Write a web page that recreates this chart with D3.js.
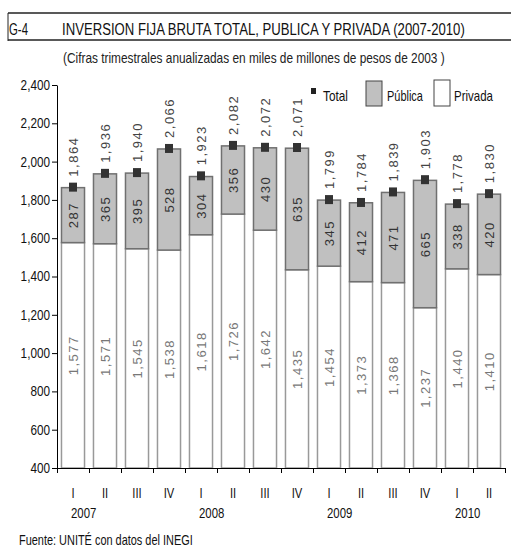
<!DOCTYPE html>
<html>
<head>
<meta charset="utf-8">
<script src="https://cdn.jsdelivr.net/npm/d3@7"></script>
<style>
  html, body { margin: 0; padding: 0; background: #fff; }
  svg { display: block; }
  text { font-family: "Liberation Sans", Arial, sans-serif; }
</style>
</head>
<body>
<svg id="chart" width="512" height="551"></svg>
<script>
const quarters = ["I","II","III","IV","I","II","III","IV","I","II","III","IV","I","II"];
const years = [{label:"2007", index:0},{label:"2008", index:4},{label:"2009", index:8},{label:"2010", index:12}];
const privada = [1577,1571,1545,1538,1618,1726,1642,1435,1454,1373,1368,1237,1440,1410];
const publica = [287,365,395,528,304,356,430,635,345,412,471,665,338,420];
const total = [1864,1936,1940,2066,1923,2082,2072,2071,1799,1784,1839,1903,1778,1830];
const yTicks = [400,600,800,1000,1200,1400,1600,1800,2000,2200,2400];

const svg = d3.select("#chart");
const fmt = d3.format(",");

const x = d3.scaleBand().domain(d3.range(privada.length)).range([57, 505]).paddingInner(0.28).paddingOuter(0.14);
const y = d3.scaleLinear().domain([400, 2400]).range([468, 85]);

// condensed text helper: horizontal scale emulates a narrow face
function ntext(parent, px, py, txt, size, sx, anchor, fill) {
  return parent.append("text")
    .attr("transform", `translate(${px},${py}) scale(${sx},1)`)
    .attr("text-anchor", anchor || "start")
    .attr("font-size", size).attr("fill", fill || "#111").text(txt);
}
// fit text to a target width by horizontal scaling
function fitText(parent, px, py, txt, size, width, fill) {
  const t = parent.append("text").attr("font-size", size).attr("fill", fill || "#111").text(txt);
  const w = t.node().getComputedTextLength();
  t.attr("transform", `translate(${px},${py}) scale(${width / w},1)`);
  return t;
}

// Title box
svg.append("line").attr("x1",8).attr("x2",511).attr("y1",13).attr("y2",13).attr("stroke","#222").attr("stroke-width",1.5);
svg.append("line").attr("x1",8).attr("x2",511).attr("y1",40).attr("y2",40).attr("stroke","#222").attr("stroke-width",1.5);
svg.append("line").attr("x1",8).attr("x2",8).attr("y1",13).attr("y2",41).attr("stroke","#222").attr("stroke-width",1);
fitText(svg, 9, 35, "G-4", 17, 19, "#111");
fitText(svg, 62, 35, "INVERSION FIJA BRUTA TOTAL, PUBLICA Y PRIVADA (2007-2010)", 17, 403, "#111");
fitText(svg, 63, 63, "(Cifras trimestrales anualizadas en miles de millones de pesos de 2003 )", 14, 382, "#222");

// Y axis
const yAxis = d3.axisLeft(y).tickValues(yTicks).tickFormat(fmt).tickSize(5).tickSizeOuter(0);
const gy = svg.append("g").attr("transform","translate(57,0)").call(yAxis);
gy.select(".domain").attr("stroke","#000");
gy.selectAll(".tick line").attr("stroke","#000");
gy.selectAll(".tick text").attr("x", 0).attr("font-family", null)
  .attr("transform","translate(-7,0) scale(0.84,1)").attr("font-size",14).attr("fill","#111");

// Bars
const g = svg.append("g");
const idx = d3.range(privada.length);
g.selectAll("rect.priv").data(idx).join("rect").attr("class","priv")
  .attr("x", i => x(i)).attr("width", x.bandwidth())
  .attr("y", i => y(privada[i])).attr("height", i => y(400) - y(privada[i]))
  .attr("fill","#fff").attr("stroke","#999").attr("stroke-width",1.5);
g.selectAll("rect.pub").data(idx).join("rect").attr("class","pub")
  .attr("x", i => x(i)).attr("width", x.bandwidth())
  .attr("y", i => y(privada[i] + publica[i])).attr("height", i => y(privada[i]) - y(privada[i] + publica[i]))
  .attr("fill","#c0c0c0").attr("stroke","#707070").attr("stroke-width",1.5);
g.selectAll("rect.tot").data(idx).join("rect").attr("class","tot")
  .attr("x", i => x(i) + x.bandwidth()/2 - 4).attr("width", 8)
  .attr("y", i => y(total[i]) - 5).attr("height", 9)
  .attr("fill","#333");

// Value labels (rotated)
function vlabel(xc, yc, txt, anchor, color) {
  g.append("text")
    .attr("transform", `translate(${xc},${yc}) rotate(-90)`)
    .attr("text-anchor", anchor).attr("dy","0.35em")
    .attr("font-size",13).attr("letter-spacing","1.5px").attr("fill",color).text(txt);
}
idx.forEach(i => {
  const xc = x(i) + x.bandwidth()/2;
  vlabel(xc, (y(400) + y(privada[i]))/2, fmt(privada[i]), "middle", "#777");
  vlabel(xc, (y(privada[i]) + y(privada[i]+publica[i]))/2, fmt(publica[i]), "middle", "#333");
  vlabel(xc, y(total[i]) - 11, fmt(total[i]), "start", "#444");
});

// X axis
const xAxis = d3.axisBottom(d3.scaleLinear().domain([0, privada.length]).range([57, 505]))
  .tickValues(d3.range(privada.length + 1)).tickSize(5).tickFormat("").tickSizeOuter(0);
const gx = svg.append("g").attr("transform", `translate(0,${y(400)})`).call(xAxis);
gx.select(".domain").attr("stroke","#000");
gx.selectAll(".tick line").attr("stroke","#000");

const gq = svg.append("g");
quarters.forEach((q, i) => ntext(gq, x(i) + x.bandwidth()/2, 498, q, 14, 0.8, "middle", "#111"));
const gyr = svg.append("g");
years.forEach(d => ntext(gyr, x(d.index) + x.bandwidth()/2 - 2, 518, d.label, 15, 0.76, "start", "#111"));

// Legend
const lg = svg.append("g");
lg.append("rect").attr("x",311).attr("y",88).attr("width",5).attr("height",6).attr("fill","#222");
fitText(lg, 323, 101, "Total", 14, 25, "#111");
lg.append("rect").attr("x",366).attr("y",81).attr("width",16).attr("height",25).attr("fill","#c0c0c0").attr("stroke","#444");
fitText(lg, 387, 101, "Pública", 14, 36, "#111");
lg.append("rect").attr("x",434).attr("y",80).attr("width",16).attr("height",26).attr("fill","#fff").attr("stroke","#444");
fitText(lg, 454, 101, "Privada", 14, 39, "#111");

// Footer
fitText(svg, 19, 545, "Fuente: UNITÉ con datos del INEGI", 14, 174, "#111");
</script>
</body>
</html>
